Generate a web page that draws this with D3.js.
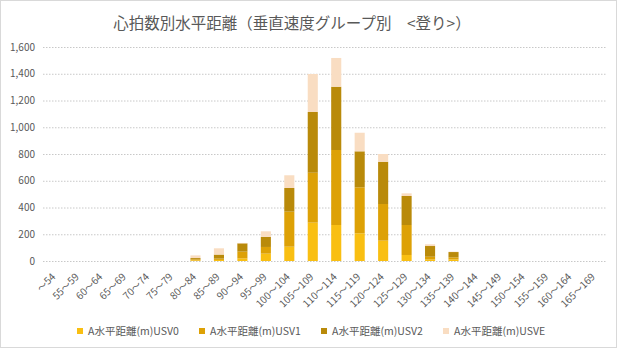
<!DOCTYPE html>
<html><head><meta charset="utf-8">
<script src="https://cdn.jsdelivr.net/npm/d3@7"></script>
<style>body{margin:0;background:#fff}svg{display:block}text{font-family:"Noto Sans CJK JP","Noto Sans",sans-serif}</style>
</head><body><svg id="c" width="617" height="348"></svg>
<script>
const categories = ["～54","55～59","60～64","65～69","70～74","75～79","80～84","85～89","90～94","95～99","100～104","105～109","110～114","115～119","120～124","125～129","130～134","135～139","140～144","145～149","150～154","155～159","160～164","165～169"];
const usv0 = [0,0,0,0,0,0,5,8,20,55,107,287,269,207,152,45,12,12,0,0,0,0,0,0];
const usv1 = [0,0,0,0,0,0,7,10,50,50,262,373,561,344,274,224,20,15,0,0,0,0,0,0];
const usv2 = [0,0,0,0,0,0,10,30,62,75,177,454,473,269,316,217,80,40,0,0,0,0,0,0];
const usvE = [0,0,0,0,0,0,20,47,3,42,95,284,215,139,58,20,13,3,0,0,0,0,0,0];
const seriesNames = ["A水平距離(m)USV0","A水平距離(m)USV1","A水平距離(m)USV2","A水平距離(m)USVE"];
const colors = ["#F9BF12","#DDA106","#B98A0A","#F9DDC2"];
const yTicks = [0,200,400,600,800,1000,1200,1400,1600];

const svg = d3.select("#c");
svg.append("rect").attr("x",0.5).attr("y",0.5).attr("width",616).attr("height",347).attr("fill","#fff").attr("stroke","#d9d9d9");

const m = {l:43, r:606, t:47, b:261};
const x = d3.scaleBand().domain(categories).range([m.l,m.r]).paddingInner(0.57).paddingOuter(0.285);
const y = d3.scaleLinear().domain([0,1600]).range([m.b,m.t]);

svg.append("text").attr("x",292).attr("y",29).attr("text-anchor","middle").attr("font-size",15.5).attr("fill","#595959").text("心拍数別水平距離（垂直速度グループ別　<登り>）");

const yAxis = svg.append("g").attr("transform",`translate(${m.l},0)`).call(d3.axisLeft(y).tickValues(yTicks).tickSize(-(m.r-m.l)).tickFormat(d3.format(",")));
yAxis.select(".domain").remove();
yAxis.selectAll("line").attr("stroke","#c8c8c8").attr("stroke-dasharray","1.5,1.5");
yAxis.selectAll("text").attr("font-size",10).attr("fill","#595959").attr("x",-8).attr("font-family","Liberation Sans, Arial, sans-serif");

const table = categories.map((c,i)=>({cat:c, s0:usv0[i], s1:usv1[i], s2:usv2[i], s3:usvE[i]}));
const stack = d3.stack().keys(["s0","s1","s2","s3"])(table);
svg.append("g").selectAll("g").data(stack).join("g").attr("fill",(d,i)=>colors[i])
  .selectAll("rect").data(d=>d).join("rect")
  .attr("x",d=>x(d.data.cat)).attr("width",x.bandwidth())
  .attr("y",d=>y(d[1])).attr("height",d=>y(d[0])-y(d[1]));

const xAxis = svg.append("g").attr("transform",`translate(0,${m.b})`).call(d3.axisBottom(x).tickSize(0));
xAxis.select(".domain").remove();
xAxis.selectAll("text").attr("font-size",10).attr("fill","#595959")
  .attr("text-anchor","end").attr("transform","translate(-1,14) rotate(-45)").attr("dy","0.35em").attr("dx",0).attr("y",0);

const legX = [80,202,324,446];
const leg = svg.append("g").selectAll("g").data(seriesNames).join("g").attr("transform",(d,i)=>`translate(${legX[i]},331)`);
leg.append("rect").attr("x",-3).attr("y",-3).attr("width",6).attr("height",6).attr("fill",(d,i)=>colors[i]);
leg.append("text").attr("x",8).attr("y",0).attr("dy","0.35em").attr("font-size",10.5).attr("fill","#595959").text(d=>d);
</script></body></html>
